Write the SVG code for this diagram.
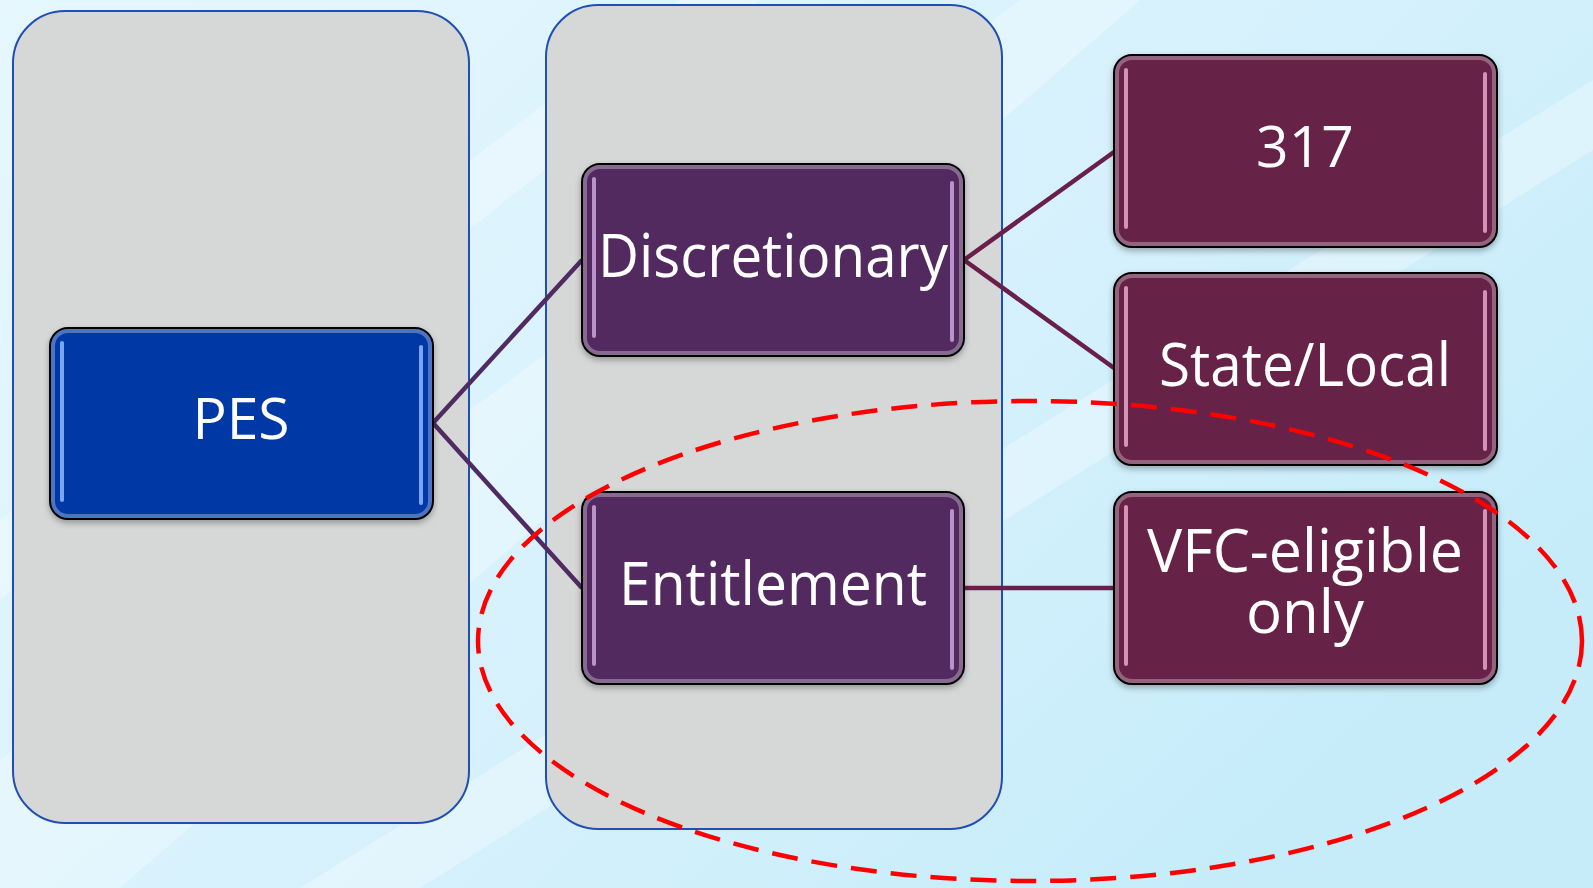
<svg xmlns="http://www.w3.org/2000/svg" width="1593" height="888" viewBox="0 0 1593 888">
<defs>
<linearGradient id="bg" x1="0" y1="0" x2="1" y2="0.6">
<stop offset="0" stop-color="#e6f7fe"/>
<stop offset="0.6" stop-color="#d6f1fc"/>
<stop offset="1" stop-color="#c6ecfa"/>
</linearGradient>
<filter id="sh" x="-10%" y="-10%" width="120%" height="130%">
<feDropShadow dx="0" dy="3" stdDeviation="3" flood-color="#000" flood-opacity="0.3"/>
</filter>
<style>
.panel{fill:#d6d8d8;stroke:#1f4fb5;stroke-width:2}
.node{stroke:#000;stroke-width:2;filter:url(#sh)}
.rim{fill:none;stroke:#fff;stroke-opacity:0.3;stroke-width:4}
.hl{stroke-width:4;stroke-linecap:round;stroke-opacity:0.85}
.lbl{font-family:"Open Sans","Liberation Sans",sans-serif;fill:#fff;text-anchor:middle}
.c1{stroke:#4f2b62;stroke-width:4.5;fill:none}
.c2{stroke:#6a1f4a;stroke-width:4.5;fill:none}
</style>
</defs>
<rect width="1593" height="888" fill="url(#bg)"/>
<g fill="#ffffff" fill-opacity="0.3">
<polygon points="0,888 0,760 1020,0 1140,0 120,888"/>
<polygon points="300,888 1593,80 1593,150 420,888"/>
<polygon points="0,600 0,520 680,0 760,0"/>
</g>
<g id="panel-left"><rect class="panel" x="13" y="11" width="456" height="812" rx="52"/></g>
<g id="panel-mid"><rect class="panel" x="546" y="5" width="456" height="824" rx="52"/></g>
<g id="connectors">
<line class="c1" x1="433" y1="423" x2="582" y2="260"/>
<line class="c1" x1="433" y1="423" x2="582" y2="588"/>
<line class="c2" x1="964" y1="260" x2="1114" y2="152"/>
<line class="c2" x1="964" y1="260" x2="1114" y2="368"/>
<line class="c2" x1="964" y1="588" x2="1114" y2="588"/>
</g>
<g id="node-pes">
<rect class="node" x="50" y="328" width="383" height="191" rx="18" fill="#0039a6"/>
<rect class="rim" x="53" y="331" width="377" height="185" rx="15" stroke="#8fb4ff"/>
<line class="hl" x1="62" y1="343" x2="62" y2="500" stroke="#8fb8ff"/>
<line class="hl" x1="421" y1="347" x2="421" y2="503" stroke="#8fb8ff"/>
<text class="lbl" x="241" y="439" font-size="57">PES</text>
</g>
<g id="node-discretionary">
<rect class="node" x="582" y="164" width="382" height="192" rx="18" fill="#532c5f"/>
<rect class="rim" x="585" y="167" width="376" height="186" rx="15"/>
<line class="hl" x1="594" y1="179" x2="594" y2="336" stroke="#c9a6dc"/>
<line class="hl" x1="952" y1="183" x2="952" y2="340" stroke="#c9a6dc"/>
<text class="lbl" x="773" y="277" font-size="61" textLength="350" lengthAdjust="spacingAndGlyphs">Discretionary</text>
</g>
<g id="node-entitlement">
<rect class="node" x="582" y="492" width="382" height="192" rx="18" fill="#532c5f"/>
<rect class="rim" x="585" y="495" width="376" height="186" rx="15"/>
<line class="hl" x1="594" y1="507" x2="594" y2="664" stroke="#c9a6dc"/>
<line class="hl" x1="952" y1="511" x2="952" y2="668" stroke="#c9a6dc"/>
<text class="lbl" x="773" y="605" font-size="61" textLength="308" lengthAdjust="spacingAndGlyphs">Entitlement</text>
</g>
<g id="node-317">
<rect class="node" x="1114" y="55" width="383" height="192" rx="18" fill="#662046"/>
<rect class="rim" x="1117" y="58" width="377" height="186" rx="15"/>
<line class="hl" x1="1126" y1="70" x2="1126" y2="227" stroke="#e8a6cc"/>
<line class="hl" x1="1485" y1="74" x2="1485" y2="231" stroke="#e8a6cc"/>
<text class="lbl" x="1305" y="167" font-size="57">317</text>
</g>
<g id="node-statelocal">
<rect class="node" x="1114" y="273" width="383" height="192" rx="18" fill="#662046"/>
<rect class="rim" x="1117" y="276" width="377" height="186" rx="15"/>
<line class="hl" x1="1126" y1="288" x2="1126" y2="445" stroke="#e8a6cc"/>
<line class="hl" x1="1485" y1="292" x2="1485" y2="449" stroke="#e8a6cc"/>
<text class="lbl" x="1305" y="386" font-size="61" textLength="292" lengthAdjust="spacingAndGlyphs">State/Local</text>
</g>
<g id="node-vfc">
<rect class="node" x="1114" y="492" width="383" height="192" rx="18" fill="#662046"/>
<rect class="rim" x="1117" y="495" width="377" height="186" rx="15"/>
<line class="hl" x1="1126" y1="507" x2="1126" y2="664" stroke="#e8a6cc"/>
<line class="hl" x1="1485" y1="511" x2="1485" y2="668" stroke="#e8a6cc"/>
<text class="lbl" font-size="60"><tspan x="1305" y="572" textLength="316" lengthAdjust="spacingAndGlyphs">VFC-eligible</tspan><tspan x="1305" y="633">only</tspan></text>
</g>
<g id="highlight-ellipse">
<ellipse cx="1030" cy="641" rx="552" ry="240" fill="none" stroke="#ff0000" stroke-width="4.5" stroke-dasharray="26 14"/>
</g>
</svg>
